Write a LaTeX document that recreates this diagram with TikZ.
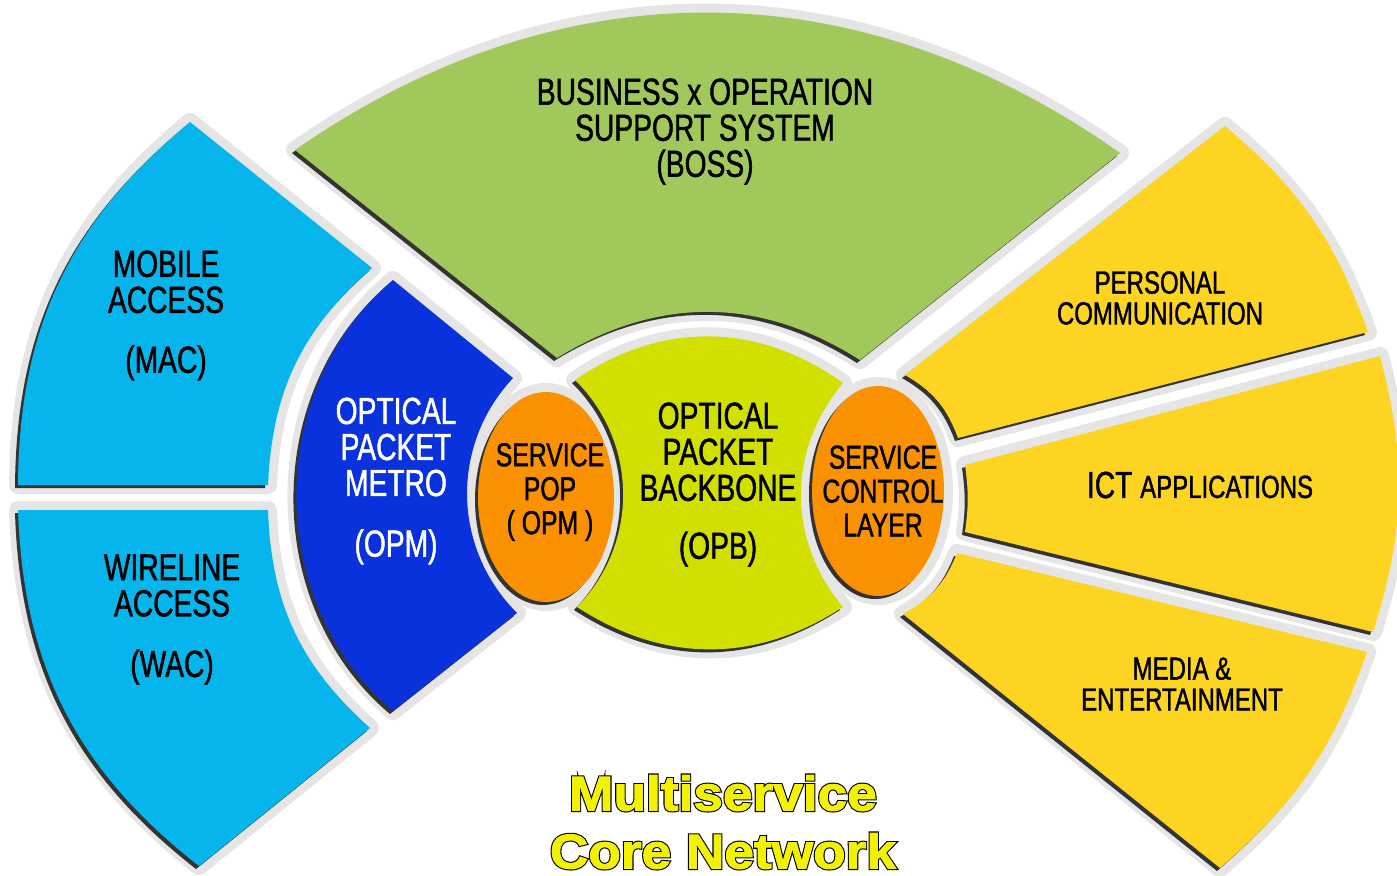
\documentclass[tikz,border=0pt]{standalone}
\usepackage{fontspec}
\newfontfamily\nf[FakeStretch=0.75,FakeBold=1.2]{Liberation Sans}
\newfontfamily\tf[FakeStretch=1.09,FakeBold=2]{Liberation Sans Bold}
\newfontfamily\tfo[FakeStretch=1.09,FakeBold=6.5]{Liberation Sans Bold}
\definecolor{bossG}{HTML}{A0C85A}
\definecolor{opbG}{HTML}{D2E000}
\definecolor{orng}{HTML}{FA9100}
\definecolor{opmB}{HTML}{0A32DC}
\definecolor{cyanA}{HTML}{05B5EB}
\definecolor{yelw}{HTML}{FDD422}
\definecolor{titY}{HTML}{F2F200}
\begin{document}
\begin{tikzpicture}[x=0.02cm,y=-0.02cm,
  halo/.style={draw=gray!20,line width=0.36cm,line join=round},
  lbl/.style={font=\nf\fontsize{21.4}{20.5}\selectfont,align=center,inner sep=0pt,text=black},
  sml/.style={font=\nf\fontsize{18.2}{17.6}\selectfont,align=center,inner sep=0pt,text=black},
  orl/.style={font=\nf\fontsize{18.8}{19.3}\selectfont,align=center,inner sep=0pt,text=black},
  ttl/.style={font=\tf\fontsize{27.8}{30}\selectfont,inner sep=0pt,text=titY},
  ttlo/.style={font=\tfo\fontsize{27.8}{30}\selectfont,inner sep=0pt,text=black}]
\useasboundingbox (0,0) rectangle (1397,876);
\def\pBOSS{(295,150) to[bend left=35] (1120,153) -- (860,360) to[bend right=32] (557,358) -- cycle}
\def\pOPB{(575,380) to[bend left=35] (843,383) to[bend right=40] (843,607) to[bend left=33] (577,607) to[bend right=45] (575,380) -- cycle}
\def\pOPM{(393,280) -- (513,378) to[bend right=44] (517,613) -- (393,711) to[bend left=50] (393,280) -- cycle}
\def\pMAC{(190,122) -- (372,268) to[bend right=23] (268,485) -- (18,485) to[bend left=25] (190,122) -- cycle}
\def\pWAC{(18,510) -- (268,510) to[bend right=23] (370,728) -- (199,866) to[bend left=25] (18,510) -- cycle}
\def\pPC{(905,375) -- (1225,126) to[bend left=15] (1368,332) -- (958,438) to[bend right=20] (905,375) -- cycle}
\def\pICT{(965,465) -- (1380,356) to[bend left=16] (1373,632) -- (965,532) to[bend right=8] (965,465) -- cycle}
\def\pME{(957,553) -- (1367,652) to[bend left=15] (1220,868) -- (903,614) to[bend right=20] (957,553) -- cycle}
\def\pEL{(546,497) ellipse [x radius=1.36cm, y radius=2.1cm]}
\def\pER{(878,491) ellipse [x radius=1.32cm, y radius=2.1cm]}
% halos
\path[halo] \pBOSS; \path[halo] \pOPB; \path[halo] \pOPM; \path[halo] \pMAC;
\path[halo] \pWAC; \path[halo] \pPC; \path[halo] \pICT; \path[halo] \pME;
\path[halo] \pEL; \path[halo] \pER;
% shadows
\begin{scope}[shift={(-3,3)}]
\fill[black!80] \pBOSS; \fill[black!80] \pOPB; \fill[black!80] \pOPM; \fill[black!80] \pMAC;
\fill[black!80] \pWAC; \fill[black!80] \pPC; \fill[black!80] \pICT; \fill[black!80] \pME;
\fill[black!80] \pEL; \fill[black!80] \pER;
\end{scope}
% fills
\fill[bossG] \pBOSS; \fill[opbG] \pOPB; \fill[opmB] \pOPM; \fill[cyanA] \pMAC;
\fill[cyanA] \pWAC; \fill[yelw] \pPC; \fill[yelw] \pICT; \fill[yelw] \pME;
\fill[orng] \pEL; \fill[orng] \pER;
% labels
\node[lbl] (boss) at (705,131.5) {BUSINESS x OPERATION\\SUPPORT SYSTEM\\(BOSS)};
\node[lbl] (mac) at (166,315.5) {MOBILE\\ACCESS\\[13.6pt](MAC)};
\node[lbl] (wac) at (172,619.5) {WIRELINE\\ACCESS\\[14pt](WAC)};
\node[lbl,text=white] (opm) at (396,481) {OPTICAL\\PACKET\\METRO\\[14pt](OPM)};
\node[lbl] (opb) at (718,484.5) {OPTICAL\\PACKET\\BACKBONE\\[12.5pt](OPB)};
\node[orl] (spop) at (550,492) {SERVICE\\POP\\( OPM )};
\node[orl] (scl) at (883,491) {SERVICE\\CONTROL\\LAYER};
\node[sml] (pc) at (1160,298) {PERSONAL\\COMMUNICATION};
\node[lbl] (ict) at (1200,485) {ICT {\fontsize{18.2}{18}\selectfont APPLICATIONS}};
\node[sml] (me) at (1182,684) {MEDIA \&\\ENTERTAINMENT};
\node[ttlo] (t1o) at (723,793) {Multiservice};
\node[ttl] (t1) at (t1o.center) {Multiservice};
\node[ttlo] (t2o) at (723,851) {Core Network};
\node[ttl] (t2) at (t2o.center) {Core Network};
\end{tikzpicture}
\end{document}
